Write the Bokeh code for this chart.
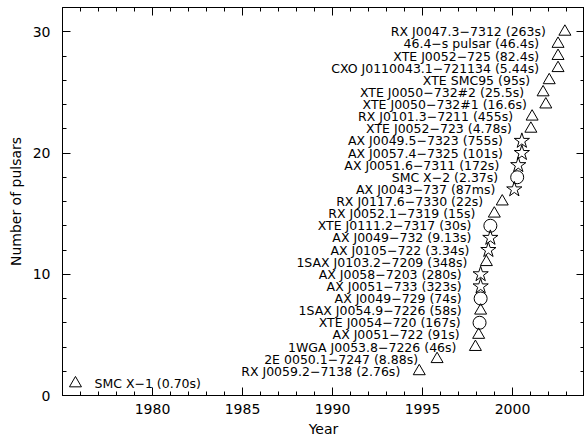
from bokeh.plotting import figure
from bokeh.models import Range1d, FixedTicker, LinearAxis, ColumnDataSource
from bokeh.embed import file_html
from bokeh.resources import INLINE
from bokeh.core.properties import value

names = [
    "SMC X−1 (0.70s)", "RX J0059.2−7138 (2.76s)", "2E 0050.1−7247 (8.88s)",
    "1WGA J0053.8−7226 (46s)", "AX J0051−722 (91s)", "XTE J0054−720 (167s)",
    "1SAX J0054.9−7226 (58s)", "AX J0049−729 (74s)", "AX J0051−733 (323s)",
    "AX J0058−7203 (280s)", "1SAX J0103.2−7209 (348s)", "AX J0105−722 (3.34s)",
    "AX J0049−732 (9.13s)", "XTE J0111.2−7317 (30s)", "RX J0052.1−7319 (15s)",
    "RX J0117.6−7330 (22s)", "AX J0043−737 (87ms)", "SMC X−2 (2.37s)",
    "AX J0051.6−7311 (172s)", "AX J0057.4−7325 (101s)", "AX J0049.5−7323 (755s)",
    "XTE J0052−723 (4.78s)", "RX J0101.3−7211 (455s)", "XTE J0050−732#1 (16.6s)",
    "XTE J0050−732#2 (25.5s)", "XTE SMC95 (95s)", "CXO J0110043.1−721134 (5.44s)",
    "XTE J0052−725 (82.4s)", "46.4−s pulsar (46.4s)", "RX J0047.3−7312 (263s)",
]
years = [
    1975.72, 1994.82, 1995.81, 1997.94, 1998.12, 1998.17, 1998.23, 1998.23,
    1998.23, 1998.23, 1998.55, 1998.66, 1998.77, 1998.77, 1998.99, 1999.43,
    2000.10, 2000.26, 2000.32, 2000.52, 2000.52, 2001.02, 2001.09, 2001.85,
    2001.70, 2002.04, 2002.53, 2002.53, 2002.53, 2002.91,
]
count = list(range(1, 31))
kinds = [
    "triangle", "triangle", "triangle", "triangle", "triangle", "circle",
    "triangle", "circle", "star", "star", "triangle", "star", "star", "circle",
    "triangle", "triangle", "star", "circle", "star", "star", "star",
    "triangle", "triangle", "triangle", "triangle", "triangle", "triangle",
    "triangle", "triangle", "triangle",
]
x_major = [1980, 1985, 1990, 1995, 2000]
y_major = [0, 10, 20, 30]

FONT = "DejaVu Sans"

p = figure(width=584, height=440, output_backend="svg", toolbar_location=None,
           x_range=Range1d(1975, 2004), y_range=Range1d(0, 32),
           min_border_left=62, min_border_right=0, min_border_top=7,
           min_border_bottom=45)
p.grid.visible = False
p.outline_line_color = "black"
p.outline_line_width = 1
p.background_fill_color = "white"
p.border_fill_color = "white"

xt = FixedTicker(ticks=x_major, minor_ticks=list(range(1976, 2004)))
yt = FixedTicker(ticks=y_major, minor_ticks=list(range(0, 33, 2)))

for ax in (p.xaxis[0], p.yaxis[0]):
    ax.major_tick_in = 8
    ax.major_tick_out = 0
    ax.minor_tick_in = 4
    ax.minor_tick_out = 0
    ax.axis_line_color = "black"
    ax.major_tick_line_color = "black"
    ax.minor_tick_line_color = "black"
    ax.major_label_text_font = FONT
    ax.major_label_text_font_size = "14px"
    ax.major_label_text_color = "black"
    ax.axis_label_text_font = FONT
    ax.axis_label_text_font_size = "14px"
    ax.axis_label_text_font_style = "normal"
    ax.axis_label_text_color = "black"

p.xaxis[0].ticker = xt
p.yaxis[0].ticker = yt
p.xaxis[0].axis_label = "Year"
p.yaxis[0].axis_label = "Number of pulsars"
p.xaxis[0].major_label_standoff = 8
p.xaxis[0].axis_label_standoff = 4
p.yaxis[0].major_label_standoff = 12
p.yaxis[0].axis_label_standoff = 6

top = LinearAxis(ticker=xt, major_label_overrides={t: "" for t in x_major},
                 major_tick_in=8, major_tick_out=0, minor_tick_in=4,
                 minor_tick_out=0, major_label_standoff=0, axis_line_color=None)
right = LinearAxis(ticker=yt, major_label_overrides={t: "" for t in y_major},
                   major_tick_in=8, major_tick_out=0, minor_tick_in=4,
                   minor_tick_out=0, major_label_standoff=0, axis_line_color=None)
p.add_layout(top, "above")
p.add_layout(right, "right")

marker_size = {"triangle": 12, "circle": 13, "star": 16}
for kind, size in marker_size.items():
    idx = [i for i, k in enumerate(kinds) if k == kind]
    src = ColumnDataSource(dict(x=[years[i] for i in idx],
                                y=[count[i] for i in idx]))
    p.scatter("x", "y", source=src, marker=kind, size=size, fill_color=None,
              line_color="black", line_width=1)

first = ColumnDataSource(dict(x=years[:1], y=count[:1], name=names[:1]))
rest = ColumnDataSource(dict(x=years[1:], y=count[1:], name=names[1:]))
p.text("x", "y", text="name", source=rest, text_align="right",
       text_baseline="middle", x_offset=-19, text_font=value(FONT),
       text_font_size="12.5px", text_color="black")
p.text("x", "y", text="name", source=first, text_align="left",
       text_baseline="middle", x_offset=19, text_font=value(FONT),
       text_font_size="12.5px", text_color="black")

open("out.html", "w").write(file_html(p, INLINE))
